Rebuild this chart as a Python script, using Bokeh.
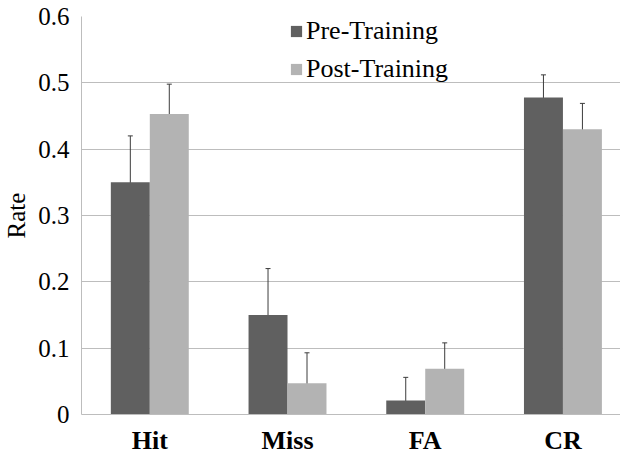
from bokeh.plotting import figure
from bokeh.models import (ColumnDataSource, Range1d, FixedTicker, Whisker, TeeHead,
                          Legend, LegendItem)
from bokeh.embed import file_html
from bokeh.resources import INLINE

# ---- data ----
categories = ["Hit", "Miss", "FA", "CR"]
pre_training = [0.350, 0.150, 0.021, 0.478]
pre_error = [0.070, 0.070, 0.035, 0.034]
post_training = [0.453, 0.047, 0.069, 0.430]
post_error = [0.045, 0.046, 0.039, 0.039]
y_ticks = [0, 0.1, 0.2, 0.3, 0.4, 0.5, 0.6]
y_tick_labels = ["0", "0.1", "0.2", "0.3", "0.4", "0.5", "0.6"]

# ---- styles ----
FONT = "Liberation Serif"
PRE_COLOR = "#606060"
POST_COLOR = "#b3b3b3"
GRID_COLOR = "#bdbdbd"
ERR_COLOR = "#3c3c3c"
BAR_W = 0.283
OFF = BAR_W / 2

idx = list(range(len(categories)))
src = ColumnDataSource(dict(
    x=idx,
    x_pre=[i - OFF for i in idx],
    x_post=[i + OFF for i in idx],
    pre=pre_training,
    post=post_training,
    pre_hi=[v + e for v, e in zip(pre_training, pre_error)],
    pre_lo=[v - e for v, e in zip(pre_training, pre_error)],
    post_hi=[v + e for v, e in zip(post_training, post_error)],
    post_lo=[v - e for v, e in zip(post_training, post_error)],
))

p = figure(width=620, height=457, output_backend="svg", toolbar_location=None,
           x_range=Range1d(-0.496, 3.418), y_range=Range1d(0, 0.6),
           min_border_left=81, min_border_right=0, min_border_top=16,
           min_border_bottom=40)
p.outline_line_color = None
p.background_fill_color = "white"
p.border_fill_color = "white"

r_pre = p.vbar(x="x_pre", top="pre", width=BAR_W, source=src,
               fill_color=PRE_COLOR, line_color=None)
r_post = p.vbar(x="x_post", top="post", width=BAR_W, source=src,
                fill_color=POST_COLOR, line_color=None)

for xs, hi, lo in (("x_pre", "pre_hi", "pre_lo"), ("x_post", "post_hi", "post_lo")):
    w = Whisker(base=xs, upper=hi, lower=lo, source=src,
                line_color=ERR_COLOR, line_width=1,
                upper_head=TeeHead(size=5, line_color=ERR_COLOR, line_width=1),
                lower_head=TeeHead(size=5, line_color=ERR_COLOR, line_width=1))
    p.add_layout(w)

# axes
p.xgrid.grid_line_color = None
p.ygrid.grid_line_color = GRID_COLOR
p.ygrid.ticker = FixedTicker(ticks=y_ticks)

xa = p.xaxis[0]
xa.ticker = FixedTicker(ticks=idx)
xa.major_label_overrides = {i: c for i, c in zip(idx, categories)}
xa.major_label_text_font = FONT
xa.major_label_text_font_size = "26px"
xa.major_label_text_font_style = "bold"
xa.major_label_text_color = "black"
xa.major_label_standoff = 11
xa.major_tick_out = 0
xa.major_tick_in = 0
xa.minor_tick_out = 0
xa.minor_tick_in = 0
xa.axis_line_color = GRID_COLOR

ya = p.yaxis[0]
ya.ticker = FixedTicker(ticks=y_ticks)
ya.major_label_overrides = {t: l for t, l in zip(y_ticks, y_tick_labels)}
ya.major_label_text_font = FONT
ya.major_label_text_font_size = "25px"
ya.major_label_text_color = "black"
ya.major_label_standoff = 12
ya.major_tick_out = 0
ya.major_tick_in = 0
ya.minor_tick_out = 0
ya.minor_tick_in = 0
ya.axis_line_color = GRID_COLOR
ya.axis_label = "Rate"
ya.axis_label_text_font = FONT
ya.axis_label_text_font_size = "25px"
ya.axis_label_text_font_style = "normal"
ya.axis_label_text_color = "black"
ya.axis_label_standoff = 5

legend = Legend(items=[LegendItem(label="Pre-Training", renderers=[r_pre]),
                       LegendItem(label="Post-Training", renderers=[r_post])],
                location=(208, 330), padding=0, margin=0, spacing=8,
                glyph_width=14, glyph_height=14, label_standoff=3,
                label_text_font=FONT, label_text_font_size="26px",
                label_text_color="black",
                border_line_color=None, background_fill_alpha=0)
p.add_layout(legend)

open("out.html", "w").write(file_html(p, INLINE))
